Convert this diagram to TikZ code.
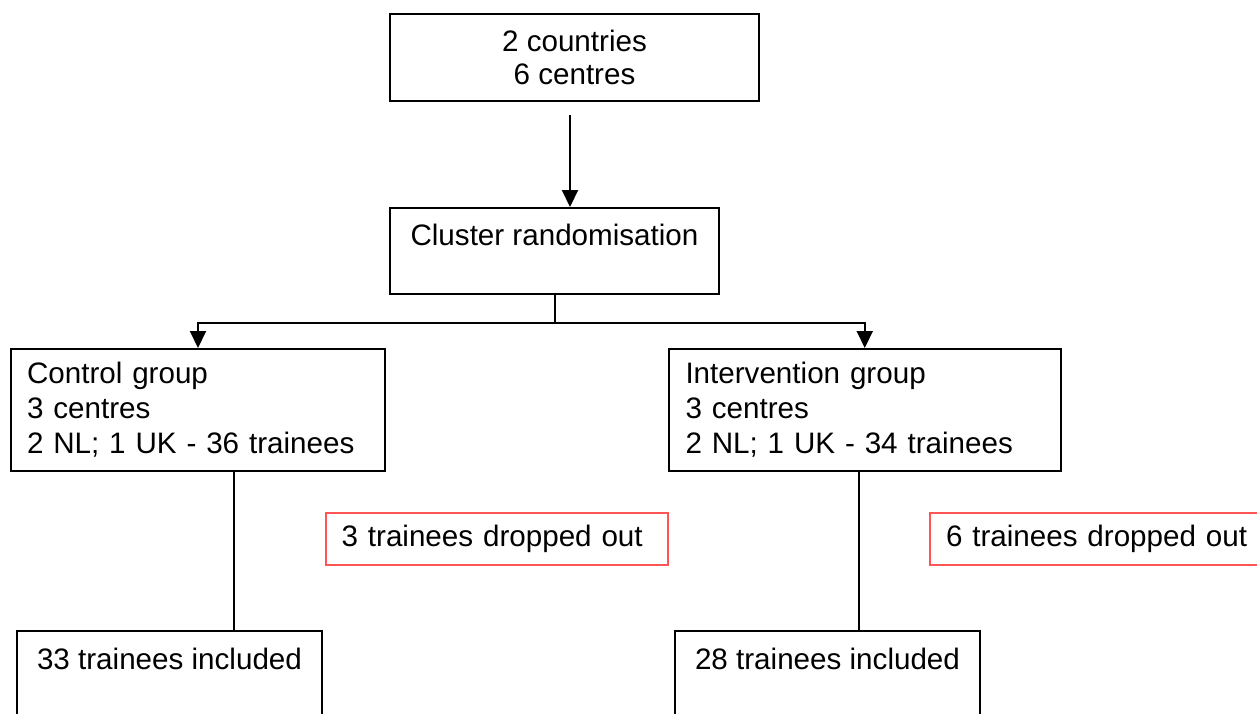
\documentclass[tikz,border=0pt]{standalone}
\usepackage{fontspec}
\setmainfont{Liberation Sans}
\usetikzlibrary{arrows.meta}
\definecolor{dropred}{RGB}{255,85,85}
\begin{document}
\begin{tikzpicture}[x=0.5pt,y=-0.5pt,
  every node/.style={font=\fontsize{14.8pt}{17.5pt}\selectfont, inner sep=0pt},
  box/.style={draw=black, line width=1pt, rectangle},
  dropbox/.style={draw=dropred, line width=1pt, rectangle},
  conn/.style={draw=black, line width=1pt},
  arr/.style={conn, -{Triangle[width=8pt,length=8.5pt]}}]
\useasboundingbox (0,0) rectangle (1257,713);
% nodes
\node[box, anchor=north west, minimum width=184.5pt, minimum height=43.25pt, align=center,
      font=\fontsize{14.8pt}{16.5pt}\selectfont] (top) at (389,13) {2 countries\\6 centres};
\node[box, anchor=north west, minimum width=164.5pt, text height=18.5pt, text depth=24.5pt] (cluster) at (389,207) {Cluster randomisation};
\node[box, anchor=north west, text width=171pt, inner xsep=8pt, minimum height=61pt, align=left] (ctrl) at (10,348) {Control group\\3 centres\\2 NL; 1 UK - 36 trainees};
\node[box, anchor=north west, text width=179.25pt, inner xsep=8.25pt, minimum height=61pt, align=left] (intv) at (668,348) {Intervention group\\3 centres\\2 NL; 1 UK - 34 trainees};
\node[dropbox, anchor=north west, text width=155.4pt, inner xsep=7.8pt, minimum height=26pt, align=left] (drop1) at (325,512) {3 trainees dropped out};
\node[dropbox, anchor=north west, text width=160pt, inner xsep=8.25pt, minimum height=26pt, align=left] (drop2) at (928.5,512) {6 trainees dropped out};
\node[box, anchor=north west, minimum width=152.5pt, text height=19pt, text depth=24pt] (inc1) at (16,630) {33 trainees included};
\node[box, anchor=north west, minimum width=152.5pt, text height=19pt, text depth=24pt] (inc2) at (674,630) {28 trainees included};
% connectors
\coordinate (a0) at ([shift={(-4.5,13.5)}]top.south);
\draw[arr] (a0) -- (a0 |- cluster.north);
\coordinate (split) at ([shift={(0,28)}]cluster.south);
\draw[conn] (cluster.south) -- (split);
\draw[arr] (split) -| (ctrl.north);
\draw[arr] (split) -| (intv.north);
\coordinate (c1) at ([shift={(36,0)}]ctrl.south);
\draw[conn] (c1) -- (c1 |- inc1.north);
\coordinate (c2) at ([shift={(-5.6,0)}]intv.south);
\draw[conn] (c2) -- (c2 |- inc2.north);
\end{tikzpicture}
\end{document}
